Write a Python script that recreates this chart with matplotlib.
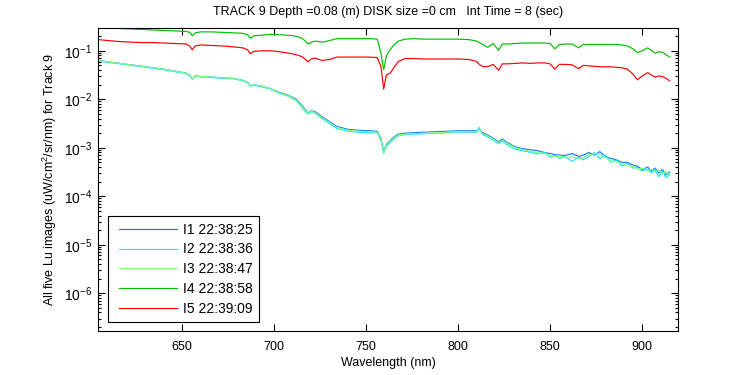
import numpy as np
import matplotlib
matplotlib.use("Agg")
import matplotlib.pyplot as plt
from matplotlib.ticker import LogLocator, NullFormatter, FixedLocator
from matplotlib.legend_handler import HandlerLine2D
from matplotlib.lines import Line2D

plt.rcParams['font.family'] = ['Liberation Sans', 'DejaVu Sans']
plt.rcParams['axes.unicode_minus'] = False
plt.rcParams['mathtext.default'] = 'regular'

# wavelength grid (nm)
wavelength = [604.5, 610, 616, 622, 628, 634, 640, 646, 652, 654,
              655.5, 657, 660, 666, 672, 678, 683, 685.5, 687, 689,
              693, 698, 703, 708, 712, 715, 717, 718.5, 720, 722,
              726, 730, 734, 740, 746, 752, 756, 758, 759.5, 761,
              763, 765, 767.5, 771, 776, 782, 788, 794, 800, 806,
              810, 811.5, 813, 816, 819, 822, 824, 827, 831, 835,
              839, 843, 847, 850, 852.5, 855, 858, 862, 865.5, 868,
              871, 874, 877, 880, 883, 886, 889, 892, 895, 897.5,
              900, 903, 905, 907, 909, 911, 913, 915]

# Lu readings, stored as log10 of radiance (uW/cm^2/sr/nm)
lu_i1_log10 = [-1.20, -1.23, -1.26, -1.29, -1.32, -1.35, -1.38, -1.42, -1.46, -1.50,
               -1.58, -1.52, -1.53, -1.54, -1.56, -1.57, -1.61, -1.65, -1.72, -1.70,
               -1.73, -1.78, -1.86, -1.92, -2.00, -2.12, -2.22, -2.29, -2.24, -2.25,
               -2.36, -2.46, -2.56, -2.62, -2.64, -2.65, -2.66, -2.81, -3.08, -2.93,
               -2.86, -2.78, -2.72, -2.70, -2.69, -2.68, -2.67, -2.66, -2.65, -2.65,
               -2.65, -2.63, -2.68, -2.74, -2.80, -2.88, -2.82, -2.90, -2.98, -3.02,
               -3.04, -3.06, -3.10, -3.12, -3.14, -3.15, -3.16, -3.12, -3.18, -3.15,
               -3.10, -3.15, -3.08, -3.18, -3.22, -3.25, -3.30, -3.30, -3.36, -3.38,
               -3.45, -3.40, -3.48, -3.42, -3.52, -3.45, -3.56, -3.50]
lu_i2_log10 = [-1.21, -1.24, -1.27, -1.30, -1.33, -1.36, -1.39, -1.43, -1.47, -1.51,
               -1.59, -1.53, -1.54, -1.55, -1.57, -1.58, -1.62, -1.66, -1.73, -1.71,
               -1.74, -1.79, -1.88, -1.94, -2.03, -2.16, -2.26, -2.31, -2.26, -2.28,
               -2.40, -2.50, -2.60, -2.66, -2.68, -2.69, -2.69, -2.85, -3.12, -2.97,
               -2.90, -2.82, -2.75, -2.73, -2.72, -2.71, -2.70, -2.69, -2.68, -2.68,
               -2.68, -2.58, -2.72, -2.78, -2.84, -2.92, -2.86, -2.95, -3.03, -3.06,
               -3.09, -3.13, -3.10, -3.20, -3.15, -3.22, -3.18, -3.28, -3.20, -3.25,
               -3.18, -3.10, -3.22, -3.15, -3.30, -3.25, -3.38, -3.32, -3.42, -3.40,
               -3.48, -3.44, -3.52, -3.46, -3.60, -3.48, -3.62, -3.54]
lu_i3_log10 = [-1.20, -1.23, -1.26, -1.29, -1.32, -1.35, -1.38, -1.42, -1.46, -1.50,
               -1.58, -1.52, -1.53, -1.54, -1.56, -1.57, -1.61, -1.65, -1.72, -1.70,
               -1.73, -1.78, -1.87, -1.93, -2.02, -2.14, -2.24, -2.30, -2.25, -2.27,
               -2.38, -2.48, -2.58, -2.64, -2.66, -2.67, -2.68, -2.83, -3.10, -2.95,
               -2.88, -2.80, -2.74, -2.72, -2.71, -2.70, -2.69, -2.68, -2.67, -2.67,
               -2.67, -2.63, -2.70, -2.76, -2.82, -2.90, -2.84, -2.92, -3.00, -3.04,
               -3.07, -3.10, -3.12, -3.16, -3.18, -3.17, -3.20, -3.19, -3.22, -3.20,
               -3.15, -3.12, -3.13, -3.20, -3.27, -3.29, -3.33, -3.36, -3.38, -3.45,
               -3.42, -3.47, -3.44, -3.50, -3.46, -3.55, -3.49, -3.58]
lu_i4_log10 = [-0.50, -0.52, -0.54, -0.55, -0.56, -0.57, -0.58, -0.59, -0.60, -0.62,
               -0.69, -0.63, -0.61, -0.61, -0.62, -0.63, -0.64, -0.67, -0.74, -0.69,
               -0.68, -0.66, -0.67, -0.68, -0.70, -0.74, -0.80, -0.86, -0.83, -0.80,
               -0.82, -0.79, -0.75, -0.75, -0.75, -0.75, -0.76, -1.05, -1.39, -1.10,
               -0.98, -0.88, -0.80, -0.76, -0.75, -0.76, -0.76, -0.76, -0.76, -0.77,
               -0.80, -0.83, -0.86, -0.93, -0.85, -0.99, -0.86, -0.86, -0.85, -0.84,
               -0.84, -0.84, -0.84, -0.85, -0.96, -0.87, -0.86, -0.86, -0.94, -0.87,
               -0.87, -0.87, -0.87, -0.87, -0.87, -0.87, -0.88, -0.90, -0.96, -1.04,
               -1.00, -0.94, -0.99, -1.05, -1.02, -1.03, -1.08, -1.13]
lu_i5_log10 = [-0.77, -0.79, -0.81, -0.82, -0.83, -0.83, -0.84, -0.85, -0.86, -0.90,
               -0.98, -0.90, -0.88, -0.89, -0.90, -0.92, -0.94, -0.98, -1.06, -1.01,
               -1.00, -1.00, -1.02, -1.05, -1.08, -1.12, -1.18, -1.23, -1.17, -1.15,
               -1.20, -1.18, -1.13, -1.13, -1.13, -1.13, -1.14, -1.32, -1.79, -1.50,
               -1.46, -1.35, -1.22, -1.16, -1.16, -1.17, -1.17, -1.17, -1.17, -1.18,
               -1.22, -1.28, -1.32, -1.33, -1.28, -1.40, -1.27, -1.27, -1.26, -1.25,
               -1.26, -1.25, -1.25, -1.27, -1.38, -1.28, -1.28, -1.29, -1.37, -1.30,
               -1.31, -1.32, -1.33, -1.33, -1.33, -1.34, -1.35, -1.38, -1.48, -1.60,
               -1.52, -1.45, -1.50, -1.54, -1.52, -1.53, -1.57, -1.62]

labels = ['I1 22:38:25', 'I2 22:38:36', 'I3 22:38:47', 'I4 22:38:58', 'I5 22:39:09']
colors = ['#1a7aff', '#1ae6ff', '#80ff80', '#00c000', '#ff0000']
series = [lu_i1_log10, lu_i2_log10, lu_i3_log10, lu_i4_log10, lu_i5_log10]
xticks = [650, 700, 750, 800, 850, 900]
yticks = [1e-6, 1e-5, 1e-4, 1e-3, 1e-2, 1e-1]

fig = plt.figure(figsize=(7.5, 3.75), dpi=100)
ax = fig.add_axes([98/750, 1-331/375, 580/750, 303/375])

wl = np.array(wavelength)
for vals, lab, col in zip(series, labels, colors):
    ax.plot(wl, 10.0 ** np.array(vals), color=col, lw=0.85, label=lab)

ax.set_yscale('log')
ax.set_xlim(604.2, 919.5)
ax.set_ylim(10 ** -6.78, 10 ** -0.53)
ax.xaxis.set_major_locator(FixedLocator(xticks))
ax.xaxis.set_minor_locator(FixedLocator([]))
ax.yaxis.set_major_locator(FixedLocator(yticks))
ax.yaxis.set_minor_locator(LogLocator(base=10, subs=np.arange(2, 10), numticks=20))
ax.yaxis.set_minor_formatter(NullFormatter())
ax.tick_params(which='both', direction='in', top=True, right=True)
ax.tick_params(axis='x', labelsize=9, pad=7)
ax.tick_params(axis='y', labelsize=10, pad=4)
ax.tick_params(which='major', length=5, width=0.8)
ax.tick_params(which='minor', length=2.5, width=0.8)
for s in ax.spines.values():
    s.set_linewidth(0.8)

ax.set_title('TRACK 9 Depth =0.08 (m) DISK size =0 cm   Int Time = 8 (sec)', fontsize=9, pad=9)
ax.set_xlabel('Wavelength (nm)', fontsize=9, labelpad=3)
ax.set_ylabel('All five Lu images (uW/cm$^2$/sr/nm) for Track 9', fontsize=9, labelpad=4)

leg = ax.legend(loc='lower left', bbox_to_anchor=(0.017, 0.029), borderaxespad=0,
                fontsize=10, handlelength=4.5, labelspacing=0.42, fancybox=False,
                edgecolor='black', framealpha=1, borderpad=0.45, handletextpad=0.43,
                handler_map={Line2D: HandlerLine2D(xpad=0.32)})
leg.get_frame().set_linewidth(0.8)

fig.savefig('out.png', dpi=100)
